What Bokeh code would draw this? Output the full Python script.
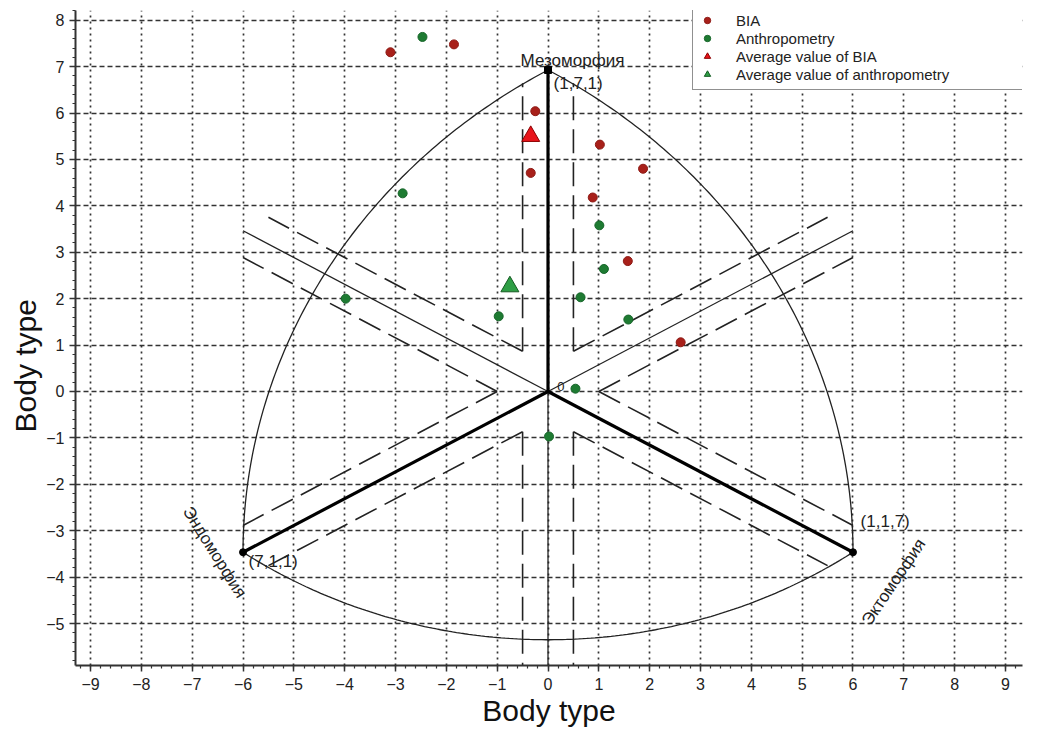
import numpy as np
from bokeh.plotting import figure
from bokeh.models import Range1d, SingleIntervalTicker, Legend, LegendItem, Title
from bokeh.core.properties import value
from bokeh.embed import file_html
from bokeh.resources import INLINE

# ---- data ----
bia_x = [-3.10, -1.85, -0.25, -0.34, 1.02, 1.87, 0.88, 1.57, 2.61]
bia_y = [7.31, 7.48, 6.04, 4.71, 5.32, 4.80, 4.18, 2.81, 1.06]
anthro_x = [-2.47, -2.86, -3.98, -0.97, 0.64, 1.01, 1.10, 1.58, 0.54, 0.02]
anthro_y = [7.64, 4.27, 2.00, 1.62, 2.03, 3.58, 2.64, 1.55, 0.06, -0.97]
bia_avg_x = [-0.34]
bia_avg_y = [5.50]
anthro_avg_x = [-0.75]
anthro_avg_y = [2.26]

# somatotype vertices (endo, meso, ecto)
vertex_names = ["Мезоморфия", "Эндоморфия", "Эктоморфия"]
vertex_labels = ["(1,7,1)", "(7,1,1)", "(1,1,7)"]
vertex_soma = [(1, 7, 1), (7, 1, 1), (1, 1, 7)]
axis_title = "Body type"

FONT = "Liberation Sans"
S3 = np.sqrt(3.0)


def soma_xy(s):
    endo, meso, ecto = s
    return ecto - endo, (2 * meso - endo - ecto) / S3


vx = [soma_xy(s)[0] for s in vertex_soma]
vy = [soma_xy(s)[1] for s in vertex_soma]
(mx, my), (nx, ny), (cx, cy) = zip(vx, vy)

p = figure(width=1025, height=729, output_backend="svg", toolbar_location=None,
           x_range=Range1d(-9.296, 9.335), y_range=Range1d(-5.905, 8.21),
           min_border_left=75, min_border_right=3, min_border_top=10, min_border_bottom=64)
p.outline_line_color = None
p.background_fill_color = "white"

# axes
for ax in (p.xaxis, p.yaxis):
    ax.ticker = SingleIntervalTicker(interval=1, num_minor_ticks=5)
    ax.major_label_text_font = FONT
    ax.major_label_text_font_size = "16px"
    ax.major_label_text_color = "#222222"
    ax.axis_line_color = "#333333"
    ax.axis_line_width = 2
    ax.major_tick_line_color = "#333333"
    ax.major_tick_line_width = 1.5
    ax.minor_tick_line_color = "#333333"
    ax.minor_tick_line_width = 1.2
    ax.major_tick_out = 6
    ax.major_tick_in = 0
    ax.minor_tick_out = 3
    ax.minor_tick_in = 0
p.xaxis.axis_label = axis_title
p.xaxis.axis_label_text_font = FONT
p.xaxis.axis_label_text_font_size = "30px"
p.xaxis.axis_label_text_font_style = "normal"
p.xaxis.axis_label_text_color = "#111111"
p.xaxis.major_label_standoff = 6
p.xaxis.axis_label_standoff = 1
p.yaxis.major_label_standoff = 5

ytitle = Title(text=axis_title, align="left", offset=233, text_font=FONT,
               text_font_size="30px", text_font_style="normal", text_color="#111111",
               standoff=4)
p.add_layout(ytitle, "left")

# grid
p.xgrid.ticker = SingleIntervalTicker(interval=1)
p.ygrid.ticker = SingleIntervalTicker(interval=1)
p.xgrid.grid_line_color = "#333333"
p.xgrid.grid_line_dash = "2 4"
p.xgrid.grid_line_width = 1.7
p.ygrid.grid_line_color = "#333333"
p.ygrid.grid_line_dash = "5 3"
p.ygrid.grid_line_width = 1.7

# arcs: left & right (Reuleaux, centred on the opposite vertex)
side = np.hypot(cx - nx, cy - ny)
a_left = np.radians(np.linspace(120, 180, 120))
a_right = np.radians(np.linspace(0, 60, 120))
# bottom arc, deeper than Reuleaux
bottom_depth = -5.35
sag = ny - bottom_depth
half = (cx - nx) / 2
Rb = (half ** 2 + sag ** 2) / (2 * sag)
cb = bottom_depth + Rb
hb = np.degrees(np.arcsin(half / Rb))
a_bot = np.radians(np.linspace(-90 - hb, -90 + hb, 160))
arc_xs = [list(cx + side * np.cos(a_left)), list(nx + side * np.cos(a_right)), list(Rb * np.cos(a_bot))]
arc_ys = [list(cy + side * np.sin(a_left)), list(ny + side * np.sin(a_right)), list(cb + Rb * np.sin(a_bot))]
p.multi_line(arc_xs, arc_ys, line_color="#222222", line_width=1.3)

# thin solid lines (opposite directions)
R0 = np.hypot(mx, my)
thin_dirs = np.radians([150, 30, 270])
p.multi_line([[0, R0 * np.cos(t)] for t in thin_dirs], [[0, R0 * np.sin(t)] for t in thin_dirs],
             line_color="#222222", line_width=1.3)

# dashed offset lines
dxs, dys = [], []
for deg in [90, 150, 210, 270, 330, 30]:
    t = np.radians(deg)
    d = np.array([np.cos(t), np.sin(t)])
    n = np.array([-np.sin(t), np.cos(t)])
    for s in (1, -1):
        a = 0.866 * d + s * 0.5 * n
        b = 6.64 * d + s * 0.5 * n
        dxs.append([a[0], b[0]])
        dys.append([a[1], b[1]])
p.multi_line(dxs, dys, line_color="#222222", line_width=1.6, line_dash="24 9")

# thick axes to vertices
p.multi_line([[0, x] for x in vx], [[0, y] for y in vy], line_color="black", line_width=3.2)

# vertex markers
p.scatter([mx], [my], marker="square", size=7, color="black")
p.scatter([nx, cx], [ny, cy], marker="circle", size=7, color="black")

# labels
TXT = dict(text_font=value(FONT), text_color="#222222")
p.text(x=[mx - 0.54], y=[my + 0.2], text=[vertex_names[0]], text_font_size="17px",
       text_align="left", text_baseline="alphabetic", **TXT)
p.text(x=[mx + 0.11], y=[my - 0.29], text=[vertex_labels[0]], text_font_size="17px",
       text_align="left", text_baseline="middle", **TXT)
p.text(x=[nx + 0.11], y=[ny - 0.2], text=[vertex_labels[1]], text_font_size="17px",
       text_align="left", text_baseline="middle", **TXT)
p.text(x=[cx + 0.15], y=[cy + 0.66], text=[vertex_labels[2]], text_font_size="17px",
       text_align="left", text_baseline="middle", **TXT)
p.text(x=[nx - 0.56], y=[ny + 0.0], text=[vertex_names[1]], text_font_size="17px",
       text_align="center", text_baseline="middle", angle=-58, angle_units="deg", **TXT)
p.text(x=[cx + 0.8], y=[cy - 0.64], text=[vertex_names[2]], text_font_size="17px",
       text_align="center", text_baseline="middle", angle=56, angle_units="deg", **TXT)
p.text(x=[0.18], y=[0.0], text=["0"], text_font_size="13px",
       text_align="left", text_baseline="bottom", **TXT)

# data
r1 = p.scatter(bia_x, bia_y, marker="circle", size=9, fill_color="#A8201A", line_color="#8E1A15")
r2 = p.scatter(anthro_x, anthro_y, marker="circle", size=9, fill_color="#1E7B32", line_color="#17652A")
r3 = p.scatter(bia_avg_x, bia_avg_y, marker="triangle", size=18, fill_color="#E8141B", line_color="#8B0000")
r4 = p.scatter(anthro_avg_x, anthro_avg_y, marker="triangle", size=18, fill_color="#2E9E45", line_color="#145A22")

legend = Legend(items=[
    LegendItem(label="BIA", renderers=[r1]),
    LegendItem(label="Anthropometry", renderers=[r2]),
    LegendItem(label="Average value of BIA", renderers=[r3]),
    LegendItem(label="Average value of anthropometry", renderers=[r4]),
], location=(617, 575))
legend.label_text_font = FONT
legend.label_text_font_size = "15px"
legend.label_text_color = "#222222"
legend.padding = 6
legend.margin = 0
legend.spacing = 0
legend.glyph_width = 16
legend.glyph_height = 18
legend.label_height = 18
legend.label_standoff = 21
legend.label_width = 300
legend.border_line_color = "#222222"
legend.border_line_width = 1
legend.background_fill_color = "white"
legend.background_fill_alpha = 1
p.add_layout(legend, "center")

open("out.html", "w").write(file_html(p, INLINE))
